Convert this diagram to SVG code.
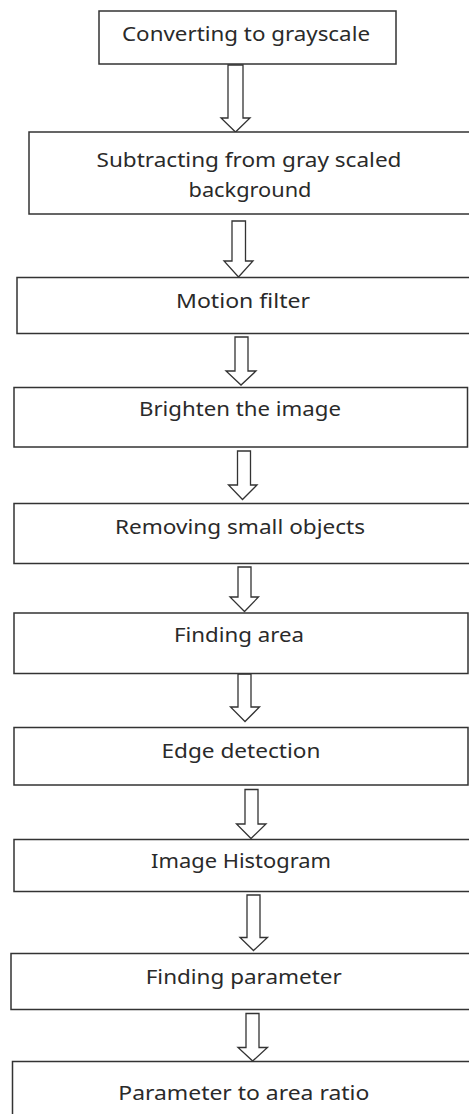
<svg xmlns="http://www.w3.org/2000/svg" width="469" height="1114" viewBox="0 0 469 1114">
  <style>
    .box { fill: #ffffff; stroke: #333333; stroke-width: 1.5; }
    .label { font-family: "Noto Sans", "Open Sans", "Liberation Sans", sans-serif; font-size: 20px; fill: #2a2a2a; text-anchor: middle; }
    .arrow { fill: #ffffff; stroke: #333333; stroke-width: 1.3; stroke-linejoin: miter; }
  </style>
  <rect width="469" height="1114" fill="#ffffff"/>

  <!-- hollow block arrows between consecutive steps -->
  <g id="connectors">
    <path class="arrow" d="M228,65 H243 V118 H250 L235.5,132 L221,118 H228 Z"/>
    <path class="arrow" d="M232,221 H245.5 V261 H253 L238.5,277 L224,261 H232 Z"/>
    <path class="arrow" d="M235,337 H248 V371 H256 L241,385 L226,371 H235 Z"/>
    <path class="arrow" d="M237.5,451 H250.5 V485 H257 L242.5,499.5 L228.5,485 H237.5 Z"/>
    <path class="arrow" d="M238,567 H251 V597 H258.5 L244.5,611.5 L230,597 H238 Z"/>
    <path class="arrow" d="M238,674 H251 V707 H259.5 L245,721.5 L230.5,707 H238 Z"/>
    <path class="arrow" d="M245,789.5 H258 V824 H266 L251,838.5 L236.5,824 H245 Z"/>
    <path class="arrow" d="M247,895 H260 V937.5 H267.5 L253.5,950.5 L240,937.5 H247 Z"/>
    <path class="arrow" d="M246,1013.5 H259 V1047.5 H267.5 L252.7,1061 L238,1047.5 H246 Z"/>
  </g>

  <g id="step-grayscale">
    <rect class="box" x="99" y="11" width="297" height="53"/>
    <text class="label" x="246" y="40.5" textLength="248" lengthAdjust="spacingAndGlyphs">Converting to grayscale</text>
  </g>
  <g id="step-subtract">
    <rect class="box" x="29" y="132" width="445" height="82"/>
    <text class="label" x="249" y="166.5" textLength="305" lengthAdjust="spacingAndGlyphs">Subtracting from gray scaled</text>
    <text class="label" x="250" y="197" textLength="123" lengthAdjust="spacingAndGlyphs">background</text>
  </g>
  <g id="step-motion">
    <rect class="box" x="17" y="277.5" width="457" height="56"/>
    <text class="label" x="243" y="308" textLength="134" lengthAdjust="spacingAndGlyphs">Motion filter</text>
  </g>
  <g id="step-brighten">
    <rect class="box" x="14" y="387.5" width="453.5" height="59.5"/>
    <text class="label" x="240" y="416" textLength="202" lengthAdjust="spacingAndGlyphs">Brighten the image</text>
  </g>
  <g id="step-remove">
    <rect class="box" x="14" y="503.5" width="460" height="60"/>
    <text class="label" x="240" y="534" textLength="250" lengthAdjust="spacingAndGlyphs">Removing small objects</text>
  </g>
  <g id="step-area">
    <rect class="box" x="14" y="613" width="454" height="60.5"/>
    <text class="label" x="239" y="641.5" textLength="130" lengthAdjust="spacingAndGlyphs">Finding area</text>
  </g>
  <g id="step-edge">
    <rect class="box" x="14" y="727.5" width="454" height="57.5"/>
    <text class="label" x="241" y="758" textLength="159" lengthAdjust="spacingAndGlyphs">Edge detection</text>
  </g>
  <g id="step-histogram">
    <rect class="box" x="14" y="839.5" width="460" height="52"/>
    <text class="label" x="241" y="868" textLength="180" lengthAdjust="spacingAndGlyphs">Image Histogram</text>
  </g>
  <g id="step-parameter">
    <rect class="box" x="11" y="953.5" width="463" height="56"/>
    <text class="label" x="243.7" y="984" textLength="196" lengthAdjust="spacingAndGlyphs">Finding parameter</text>
  </g>
  <g id="step-ratio">
    <rect class="box" x="12.5" y="1061.5" width="462" height="60"/>
    <text class="label" x="243.8" y="1100" textLength="251" lengthAdjust="spacingAndGlyphs">Parameter to area ratio</text>
  </g>
</svg>
